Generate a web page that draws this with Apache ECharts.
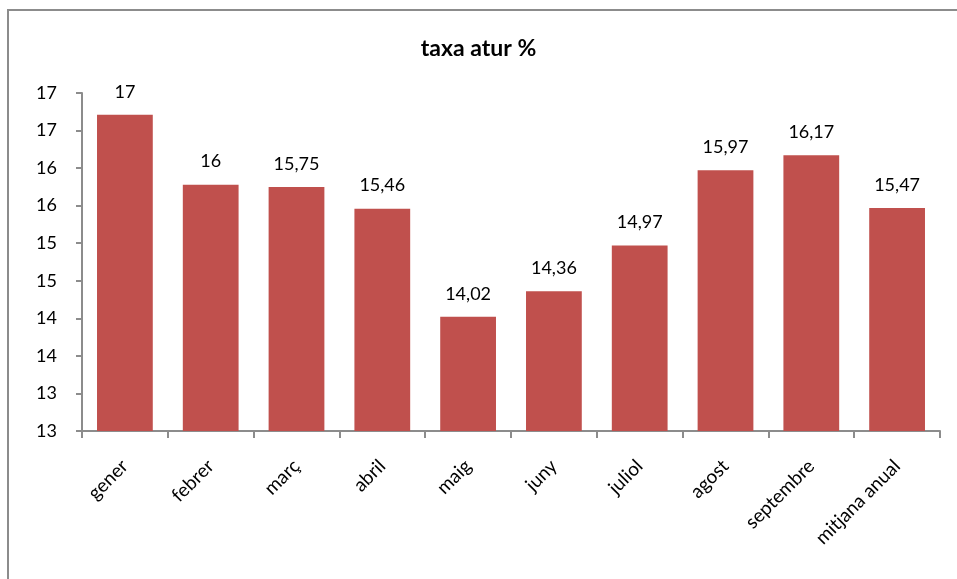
<!DOCTYPE html>
<html>
<head>
<meta charset="utf-8">
<script src="https://cdn.jsdelivr.net/npm/echarts@6/dist/echarts.min.js"></script>
<style>
  html, body { margin: 0; padding: 0; background: #fff; }
  #frame { position: absolute; left: 7px; top: 9px; width: 960px; height: 580px; border-left: 2px solid #8c8c8c; border-top: 2px solid #8c8c8c; }
  #chart { position: absolute; left: 0; top: 0; width: 957px; height: 579px; }
</style>
</head>
<body>
<div id="frame"></div>
<div id="chart"></div>
<script>
// mesos i valors de la taxa d'atur
const months = ['gener', 'febrer', 'març', 'abril', 'maig', 'juny', 'juliol', 'agost', 'septembre', 'mitjana anual']
const rates = [16.71, 15.78, 15.75, 15.46, 14.02, 14.36, 14.97, 15.97, 16.17, 15.47]
const rateLabels = ['17', '16', '15,75', '15,46', '14,02', '14,36', '14,97', '15,97', '16,17', '15,47']

const font = 'Lato, "Open Sans", sans-serif'

echarts.init(document.getElementById('chart')).setOption({
  animation: false,
  title: {
    text: 'taxa atur %',
    left: 'center',
    top: 32,
    textStyle: { fontFamily: font, fontSize: 23, fontWeight: 'bold', color: '#000' }
  },
  grid: {
    left: 82,
    right: 17,
    top: 93,
    bottom: 148
  },
  xAxis: {
    type: 'category',
    data: months,
    axisLine: { lineStyle: { color: '#8c8c8c', width: 2 } },
    axisTick: { show: true, length: 7, lineStyle: { color: '#8c8c8c', width: 2 } },
    axisLabel: {
      rotate: 45,
      margin: 32,
      fontFamily: font,
      fontSize: 19,
      color: '#000'
    }
  },
  yAxis: {
    type: 'value',
    min: 12.5,
    max: 17,
    interval: 0.5,
    splitLine: { show: false },
    axisLine: { show: true, lineStyle: { color: '#8c8c8c', width: 2 } },
    axisTick: { show: true, length: 6, lineStyle: { color: '#8c8c8c', width: 2 } },
    axisLabel: {
      margin: 25,
      fontFamily: font,
      fontSize: 18,
      color: '#000',
      formatter: function (value) {
        return String(Math.round(value))
      }
    }
  },
  series: [{
    type: 'bar',
    data: rates,
    barWidth: '65%',
    itemStyle: { color: '#C0504D' },
    label: {
      show: true,
      position: 'top',
      distance: 14,
      fontFamily: font,
      fontSize: 18,
      color: '#000',
      formatter: function (p) {
        return rateLabels[p.dataIndex]
      }
    }
  }]
})
</script>
</body>
</html>
